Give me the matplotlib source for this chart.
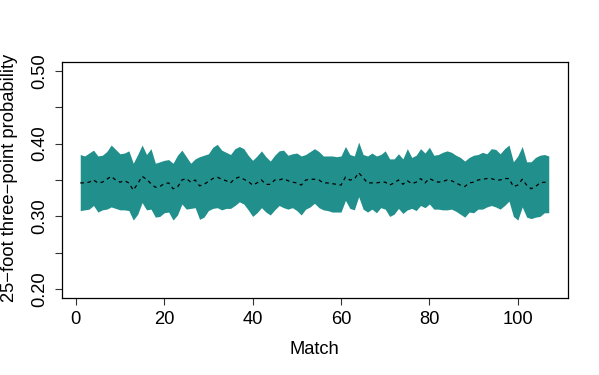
import matplotlib
matplotlib.use("Agg")
import matplotlib.pyplot as plt
import numpy as np

plt.rcParams['font.family'] = ['Liberation Sans', 'DejaVu Sans']

# Match index
matches = list(range(1, 108))

# Upper bound of the band
upper = [0.385, 0.383, 0.387, 0.391, 0.383, 0.384, 0.389, 0.398, 0.392, 0.386,
         0.387, 0.390, 0.373, 0.385, 0.398, 0.385, 0.393, 0.373, 0.375, 0.377,
         0.378, 0.373, 0.384, 0.391, 0.382, 0.373, 0.379, 0.382, 0.384, 0.386,
         0.395, 0.399, 0.391, 0.388, 0.385, 0.393, 0.396, 0.393, 0.384, 0.377,
         0.383, 0.390, 0.382, 0.376, 0.384, 0.390, 0.391, 0.384, 0.386, 0.387,
         0.383, 0.385, 0.389, 0.393, 0.389, 0.383, 0.383, 0.383, 0.382, 0.383,
         0.396, 0.385, 0.383, 0.402, 0.385, 0.383, 0.387, 0.383, 0.385, 0.390,
         0.379, 0.379, 0.386, 0.379, 0.393, 0.381, 0.384, 0.393, 0.387, 0.395,
         0.384, 0.385, 0.388, 0.390, 0.388, 0.384, 0.381, 0.376, 0.381, 0.384,
         0.385, 0.388, 0.386, 0.393, 0.392, 0.386, 0.393, 0.398, 0.375, 0.383,
         0.396, 0.375, 0.375, 0.381, 0.384, 0.385, 0.383]

# Median (dashed line)
median = [0.346, 0.346, 0.347, 0.350, 0.346, 0.347, 0.351, 0.355, 0.350, 0.347,
          0.349, 0.346, 0.336, 0.345, 0.355, 0.351, 0.345, 0.340, 0.341, 0.345,
          0.346, 0.338, 0.340, 0.350, 0.352, 0.347, 0.350, 0.342, 0.344, 0.348,
          0.352, 0.354, 0.351, 0.349, 0.346, 0.352, 0.354, 0.351, 0.348, 0.343,
          0.346, 0.350, 0.344, 0.344, 0.350, 0.350, 0.352, 0.349, 0.347, 0.346,
          0.343, 0.350, 0.351, 0.351, 0.350, 0.346, 0.346, 0.345, 0.344, 0.343,
          0.354, 0.350, 0.351, 0.360, 0.353, 0.346, 0.346, 0.346, 0.347, 0.347,
          0.343, 0.346, 0.350, 0.344, 0.349, 0.345, 0.347, 0.352, 0.346, 0.352,
          0.349, 0.347, 0.348, 0.350, 0.349, 0.346, 0.343, 0.341, 0.346, 0.347,
          0.350, 0.351, 0.352, 0.352, 0.350, 0.350, 0.352, 0.352, 0.341, 0.343,
          0.351, 0.343, 0.338, 0.341, 0.346, 0.347, 0.345]

# Lower bound of the band
lower = [0.308, 0.309, 0.310, 0.315, 0.306, 0.309, 0.310, 0.313, 0.311, 0.309,
         0.309, 0.308, 0.295, 0.303, 0.319, 0.309, 0.310, 0.299, 0.300, 0.305,
         0.306, 0.295, 0.302, 0.317, 0.310, 0.311, 0.312, 0.296, 0.299, 0.308,
         0.311, 0.312, 0.309, 0.311, 0.311, 0.315, 0.320, 0.317, 0.309, 0.300,
         0.305, 0.312, 0.306, 0.302, 0.309, 0.315, 0.312, 0.310, 0.312, 0.308,
         0.302, 0.310, 0.313, 0.318, 0.312, 0.309, 0.308, 0.306, 0.306, 0.306,
         0.322, 0.311, 0.309, 0.327, 0.310, 0.306, 0.310, 0.305, 0.312, 0.310,
         0.300, 0.303, 0.311, 0.304, 0.309, 0.311, 0.308, 0.315, 0.312, 0.317,
         0.310, 0.310, 0.309, 0.309, 0.310, 0.307, 0.303, 0.299, 0.306, 0.305,
         0.310, 0.310, 0.313, 0.315, 0.313, 0.310, 0.315, 0.321, 0.300, 0.295,
         0.313, 0.299, 0.297, 0.299, 0.300, 0.305, 0.305]

x_ticks = [0, 20, 40, 60, 80, 100]
y_ticks = [0.20, 0.30, 0.40, 0.50]
y_ticks_minor = [0.25, 0.35, 0.45]

FS = 13.2
W, H = 599, 375
fig = plt.figure(figsize=(W / 100, H / 100), dpi=100)
left, right, top, bottom = 61.5, 567.5, 62, 298
ax = fig.add_axes([left / W, 1 - bottom / H, (right - left) / W, (bottom - top) / H])

ax.fill_between(matches, lower, upper, color='#21908C', linewidth=0)
ax.plot(matches, median, color='black', linestyle=(0, (2.9, 2.9)), linewidth=0.9)

n = len(matches)
pad = 0.04 * (n - 1)
ax.set_xlim(1 - pad, n + pad)
ax.set_ylim(0.2 - 0.012, 0.5 + 0.012)

ax.set_xticks(x_ticks)
ax.set_xticklabels([str(v) for v in x_ticks])
ax.set_yticks(y_ticks)
ax.set_yticklabels(["%.2f" % v for v in y_ticks], rotation=90, va='center')
ax.set_yticks(y_ticks_minor, minor=True)

for s in ax.spines.values():
    s.set_linewidth(0.9)
    s.set_color('black')

ax.tick_params(axis='both', which='both', direction='out', length=5.2, width=0.8,
               color='#333333', labelsize=FS, pad=4.5)
ax.tick_params(axis='y', which='major', pad=4)

fig.text(314 / W, 1 - 349 / H, "Match", ha='center', va='center', fontsize=FS)
fig.text(9.5 / W, 1 - 178 / H, "25\u2212foot three\u2212point probability", rotation=90,
         ha='center', va='center', fontsize=FS)

fig.savefig("out.png", dpi=100)
